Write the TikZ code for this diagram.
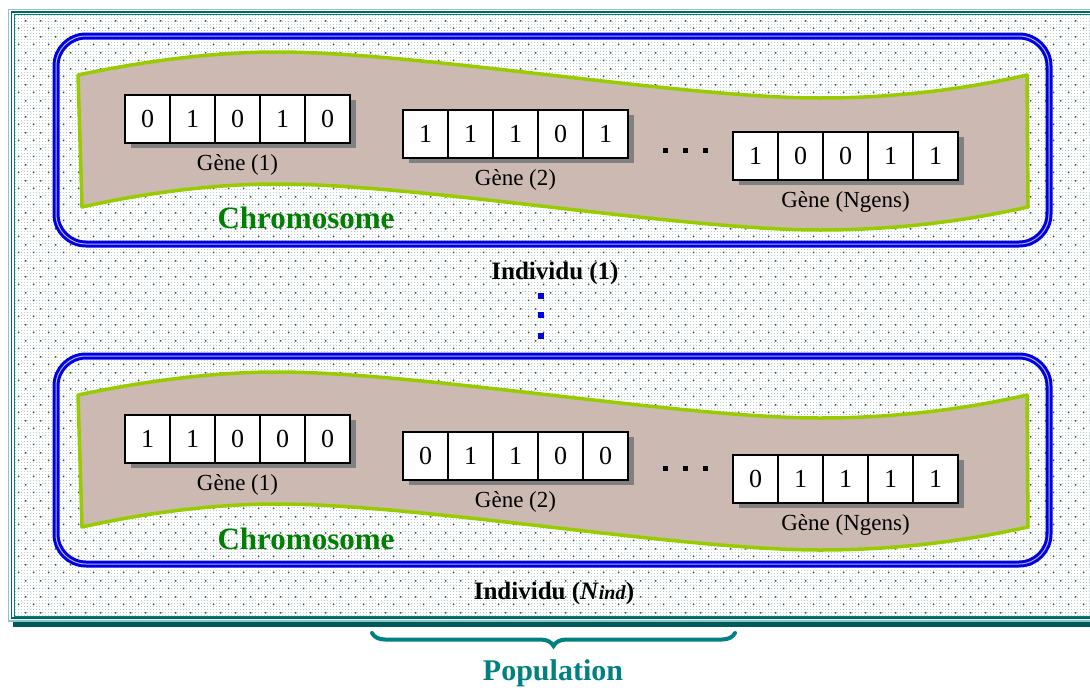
\documentclass[tikz,border=0pt]{standalone}
\usepackage{fontspec}
\setmainfont{Liberation Serif}
\usetikzlibrary{patterns.meta,decorations.pathreplacing,positioning}

\definecolor{popteal}{RGB}{0,128,128}
\definecolor{indblue}{RGB}{0,0,225}
\definecolor{chromfill}{RGB}{204,185,177}
\definecolor{chromline}{RGB}{153,204,0}
\definecolor{chromgreen}{RGB}{0,128,0}
\definecolor{griddot}{RGB}{180,208,208}

\tikzdeclarepattern{
  name=finegrid, type=uncolored,
  bounding box={(0,0) and (3pt,3pt)}, tile size={(3pt,3pt)},
  code={\fill (0,0) rectangle (1pt,1pt);}
}
\tikzdeclarepattern{
  name=popdots, type=uncolored,
  bounding box={(0,0) and (15pt,16pt)}, tile size={(15pt,16pt)},
  code={\fill (3pt,3pt) rectangle (4.6pt,4.6pt);
        \fill (10.5pt,11pt) rectangle (12.1pt,12.6pt);}
}

% one gene: name, left, top, bits
\newcommand{\gene}[4]{%
  \fill[geneshadow] (#2+6,#3+5) rectangle (#2+231,#3+53);
  \foreach \b [count=\i] in {#4}
    \node[cell] (#1-\i) at (#2-22.5+45*\i,#3+24) {\b};
}
% chromosome band and individual frame
\newcommand{\individu}{%
  \draw[indbox] (56,36) rectangle (1049,244);
  \filldraw[chromband] (78,75) .. controls (140,62) and (210,52) .. (277,52)
    .. controls (420,52) and (680,98) .. (820,98)
    .. controls (900,98) and (970,88) .. (1027,75) -- (1028,207)
    .. controls (970,220) and (900,230) .. (820,230)
    .. controls (680,230) and (420,184) .. (277,184)
    .. controls (210,184) and (140,194) .. (82,207) -- cycle;
}

\begin{document}
\begin{tikzpicture}[x=1pt,y=-1pt,
  cell/.style={draw, line width=1.2pt, fill=white, minimum width=45pt, minimum height=48pt, inner sep=0pt, font=\fontsize{26}{28}\selectfont},
  geneshadow/.style={fill=gray},
  genelabel/.style={inner sep=0pt, font=\fontsize{23}{25}\selectfont},
  indbox/.style={draw=indblue, line width=3pt, double=indblue!30!white, double distance=1pt, rounded corners=30pt},
  chromband/.style={fill=chromfill, draw=chromline, line width=3.5pt, line join=round},
  chromlabel/.style={anchor=base, inner sep=0pt, text=chromgreen, font=\fontsize{31}{33}\selectfont\bfseries},
  indlabel/.style={anchor=base, inner sep=0pt, font=\fontsize{25}{27}\selectfont\bfseries},
  poplabel/.style={anchor=base, inner sep=0pt, text=popteal, font=\fontsize{30}{32}\selectfont\bfseries},
  popbrace/.style={draw=popteal, line width=4pt, line cap=round, decorate, decoration={brace, mirror, amplitude=13pt}}]
\useasboundingbox (0,0) rectangle (1090,688);

% population frame
\fill[popteal!70!black] (13,16) rectangle (1110,627);
\draw[popteal!45, line width=1.5pt, fill=white] (8.5,9.5) rectangle (1105,621);
\fill[white] (11.5,12) rectangle (1105,618);
\fill[pattern=finegrid, pattern color=griddot] (13,14) rectangle (1105,617);
\fill[pattern=popdots, pattern color=gray!55!black] (13,14) rectangle (1105,617);
\draw[popteal!80!black, line width=1.5pt] (11.5,12) rectangle (1105,618);
\draw[popteal, line width=0.8pt] (14,14.5) rectangle (1105,616);

% individu 1
\individu
\gene{a1}{125}{95}{0,1,0,1,0}
\gene{a2}{403}{110}{1,1,1,0,1}
\gene{aN}{733}{132}{1,0,0,1,1}
\node[genelabel, below=11pt of a1-3] (la1) {Gène (1)};
\node[genelabel, below=11pt of a2-3] (la2) {Gène (2)};
\node[genelabel, below=11pt of aN-3] (laN) {Gène (Ngens)};
\foreach \x in {665,685,705}
  \fill (\x-2.5,147.5) rectangle (\x+2.5,152.5);
\node[chromlabel] (ca) at (306,228) {Chromosome};
\node[indlabel] (ia) at (555,279) {Individu (1)};

% vertical dots
\foreach \y in {296,315,336}
  \fill[indblue] (538,\y-3) rectangle (544,\y+3);

% individu Nind
\begin{scope}[shift={(0,320)}]
\individu
\gene{b1}{125}{95}{1,1,0,0,0}
\gene{b2}{403}{112}{0,1,1,0,0}
\gene{bN}{733}{135}{0,1,1,1,1}
\node[genelabel, below=11pt of b1-3] (lb1) {Gène (1)};
\node[genelabel, below=11pt of b2-3] (lb2) {Gène (2)};
\node[genelabel, below=11pt of bN-3] (lbN) {Gène (Ngens)};
\foreach \x in {665,685,705}
  \fill (\x-2.5,145.5) rectangle (\x+2.5,150.5);
\node[chromlabel] (cb) at (306,229) {Chromosome};
\end{scope}
\node[indlabel] (ib) at (554,599) {Individu (\textit{N}{\fontsize{20}{22}\selectfont\textit{ind}})};

% population
\coordinate (bl) at (372,633);
\coordinate (br) at (735,633);
\draw[popbrace] (bl) -- (br);
\node[poplabel] (pop) at (553,680) {Population};
\end{tikzpicture}
\end{document}
